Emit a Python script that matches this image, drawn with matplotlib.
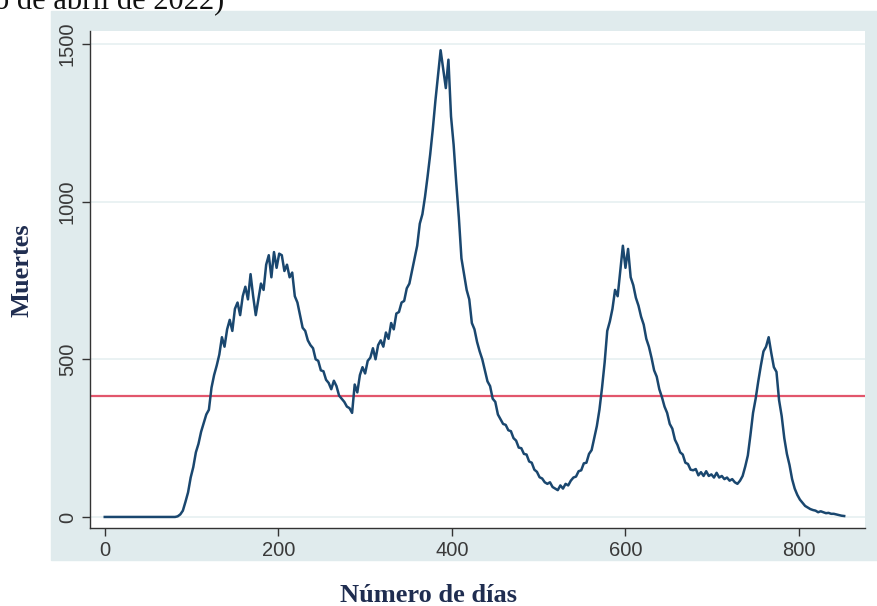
import numpy as np
import matplotlib.pyplot as plt
from matplotlib.patches import Rectangle

# muertes diarias, leidas cada 3 dias (dia 0, 3, 6, ...)
deaths = [
    0, 0, 0, 0, 0, 0, 0, 0, 0, 0,
    0, 0, 0, 0, 0, 0, 0, 0, 0, 0,
    0, 0, 0, 0, 0, 0, 0, 0, 2, 8,
    20, 48, 78, 125, 158, 205, 232, 270, 298, 325,
    340, 410, 450, 480, 515, 570, 540, 595, 625, 590,
    660, 680, 640, 700, 730, 690, 770, 700, 640, 690,
    740, 720, 800, 830, 760, 840, 790, 835, 830, 780,
    800, 760, 775, 700, 680, 640, 600, 590, 560, 545,
    535, 500, 495, 465, 462, 435, 425, 405, 432, 415,
    385, 375, 365, 350, 345, 330, 420, 395, 450, 475,
    455, 495, 505, 535, 500, 545, 560, 540, 585, 565,
    615, 595, 645, 650, 680, 685, 725, 740, 780, 820,
    860, 930, 960, 1015, 1080, 1150, 1230, 1320, 1400, 1480,
    1420, 1360, 1450, 1270, 1180, 1060, 950, 820, 770, 720,
    690, 615, 595, 555, 525, 500, 465, 430, 415, 375,
    365, 325, 310, 295, 292, 275, 272, 250, 242, 220,
    218, 200, 198, 176, 172, 150, 143, 126, 122, 110,
    105, 110, 95, 90, 85, 100, 90, 105, 100, 115,
    125, 128, 145, 148, 170, 172, 200, 212, 250, 288,
    340, 410, 490, 590, 620, 660, 720, 700, 780, 860,
    790, 850, 760, 735, 695, 670, 635, 610, 565, 540,
    505, 465, 445, 405, 380, 350, 330, 295, 280, 245,
    228, 205, 198, 172, 168, 150, 148, 152, 132, 142,
    130, 145, 130, 135, 125, 140, 125, 130, 120, 125,
    115, 120, 110, 105, 115, 130, 160, 195, 260, 330,
    375, 430, 480, 525, 540, 570, 520, 475, 460, 370,
    320, 250, 200, 165, 120, 90, 70, 55, 45, 35,
    30, 25, 22, 20, 15, 18, 15, 12, 13, 10,
    10, 8, 6, 4, 3,
]
days = np.arange(len(deaths)) * 3
threshold = 384

x_ticks = [0, 200, 400, 600, 800]
y_ticks = [0, 500, 1000, 1500]

fig = plt.figure(figsize=(8.77, 6.06), dpi=100)
bg = Rectangle((51 / 877, 1 - 560 / 606), 826 / 877, 549 / 606,
               transform=fig.transFigure, color='#e0ebed', zorder=-5)
fig.add_artist(bg)

ax = fig.add_axes([90 / 877, 1 - 528 / 606, 775 / 877, 497 / 606])
ax.set_zorder(2)
ax.set_facecolor('white')

ax.plot(days, deaths, color='#1a476f', lw=1.8, zorder=3)
ax.axhline(threshold, color='#e2566c', lw=1.6, zorder=2)

ax.set_xlim(-17, 876)
ax.set_ylim(-35, 1541)
ax.set_xticks(x_ticks)
ax.set_yticks(y_ticks)
ax.grid(axis='y', color='#e6f0f1', lw=1.2, zorder=1)
ax.set_axisbelow(True)

for s in ['top', 'right']:
    ax.spines[s].set_visible(False)
for s in ['left', 'bottom']:
    ax.spines[s].set_color('#333333')
    ax.spines[s].set_linewidth(1.0)

ax.tick_params(axis='both', direction='out', length=6, width=1.0, color='#333333',
               labelcolor='#3a3a3a', labelsize=14.5)
plt.setp(ax.get_xticklabels(), family='Liberation Sans')
plt.setp(ax.get_yticklabels(), family='Liberation Sans', rotation=90, va='center')

fig.text(428 / 877, 1 - 595 / 606, 'Número de días', ha='center', va='center',
         family='Liberation Serif', weight='bold', fontsize=19, color='#1f2d50')
fig.text(22 / 877, 1 - 270 / 606, 'Muertes', ha='center', va='center', rotation=90,
         family='Liberation Serif', weight='bold', fontsize=19, color='#1f2d50')
fig.text(-6 / 877, 1 - 9 / 606, 'o de abril de 2022)', ha='left', va='baseline',
         family='Liberation Serif', fontsize=22, color='#111111')

fig.savefig('out.png', dpi=100)
